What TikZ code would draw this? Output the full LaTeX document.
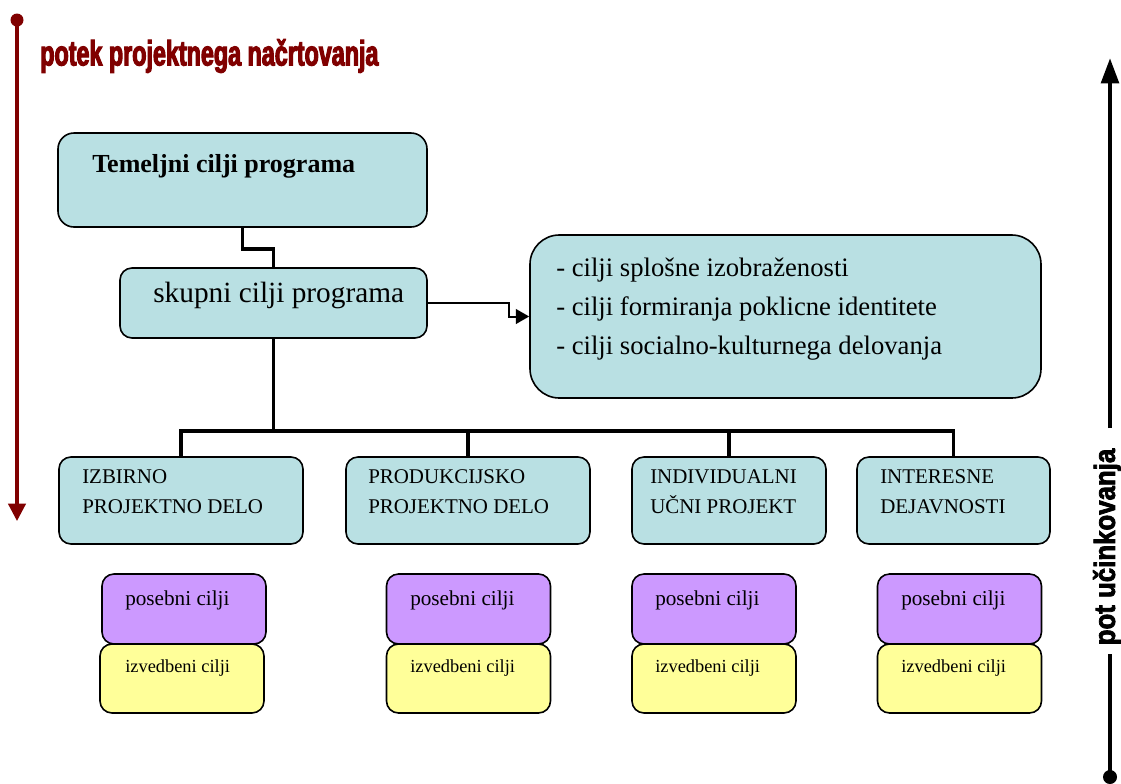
\documentclass[tikz,border=0pt]{standalone}
\usepackage{fontspec}
\setmainfont{Liberation Serif}
\newfontfamily\headfont[FakeStretch=0.66,FakeBold=3]{Liberation Sans}
\newfontfamily\sidefont[FakeStretch=0.88,FakeBold=2.5]{Liberation Sans}
\usetikzlibrary{arrows.meta,positioning}
\definecolor{goalcyan}{HTML}{B9E0E3}
\definecolor{goalviolet}{HTML}{CC99FF}
\definecolor{goalyellow}{HTML}{FFFF99}
\definecolor{flowred}{HTML}{800000}
\def\px{0.75pt}

\begin{document}
\begin{tikzpicture}
  [x=0.75pt, y=-0.75pt,
   goal/.style={draw, line width=1.2pt, rounded corners=9pt, inner sep=0pt},
   cyanbox/.style={goal, fill=goalcyan},
   violetbox/.style={goal, fill=goalviolet, minimum width=164*\px, minimum height=70*\px},
   yellowbox/.style={goal, fill=goalyellow, minimum width=164*\px, minimum height=69*\px},
   lbl/.style={anchor=west, inner sep=0pt, align=left},
   trunk/.style={line width=2.6pt},
   link/.style={line width=1.5pt, -{Triangle[length=10pt,width=11pt]}}]
  \useasboundingbox (0,0) rectangle (1121,783);

  % left flow arrow and title
  \fill[flowred] (17,20) circle (6.5);
  \draw[flowred, line width=2.4pt, -{Triangle[length=13pt,width=13pt]}] (17,20) -- (17,521);
  \node[lbl, text=flowred, font=\headfont\bfseries\fontsize{26.5}{29}\selectfont] (title) at (40,56) {potek projektnega načrtovanja};

  % right arrow
  \fill (1110,777) circle (7);
  \draw[line width=3.4pt] (1110,777) -- (1110,654);
  \draw[line width=3.4pt, -{Triangle[length=19pt,width=13pt]}] (1110,428) -- (1110,58);
  \node[rotate=90, inner sep=0pt, font=\sidefont\bfseries\fontsize{22}{24}\selectfont] (pot) at (1107,547) {pot učinkovanja};

  % top boxes
  \node[cyanbox, rounded corners=12pt, minimum width=369*\px, minimum height=94*\px] (temelj) at (242.5,180) {};
  \node[lbl, font=\bfseries\fontsize{19.5}{22}\selectfont] (temeljtxt) at (92,166) {Temeljni cilji programa};

  \node[cyanbox, minimum width=307*\px, minimum height=70*\px] (skupni) at (273.5,303) {};
  \node[lbl, font=\fontsize{22}{26}\selectfont] (skupnitxt) at (153,295) {skupni cilji programa};

  \node[cyanbox, rounded corners=22pt, minimum width=511*\px, minimum height=163*\px] (cilji) at (785.5,316.5) {};
  \node[lbl, font=\fontsize{20}{29.5}\selectfont] (ciljitxt) at (556,309)
    {- cilji splošne izobraženosti\\- cilji formiranja poklicne identitete\\- cilji socialno-kulturnega delovanja};

  % program parts
  \node[cyanbox, minimum width=244*\px, minimum height=87*\px] (izbirno) at (181,500.5) {};
  \node[cyanbox, minimum width=244*\px, minimum height=87*\px] (produkc) at (468,500.5) {};
  \node[cyanbox, minimum width=194*\px, minimum height=87*\px] (individ) at (729,500.5) {};
  \node[cyanbox, minimum width=193*\px, minimum height=87*\px] (interes) at (953.5,500.5) {};
  \begin{scope}[every node/.style={lbl, font=\fontsize{15.7}{22.5}\selectfont}]
    \node (izbirnotxt) at (82,492) {IZBIRNO\\PROJEKTNO DELO};
    \node (produkctxt) at (368,492) {PRODUKCIJSKO\\PROJEKTNO DELO};
    \node (individtxt) at (650,492) {INDIVIDUALNI\\UČNI PROJEKT};
    \node (interestxt) at (880,492) {INTERESNE\\DEJAVNOSTI};
  \end{scope}

  % special and operational goals
  \node[violetbox] (pos1) at (184,609) {};
  \node[violetbox] (pos2) at (468.5,609) {};
  \node[violetbox] (pos3) at (714,609) {};
  \node[violetbox] (pos4) at (959.5,609) {};
  \node[yellowbox] (izv1) at (182,678.5) {};
  \node[yellowbox] (izv2) at (468.5,678.5) {};
  \node[yellowbox] (izv3) at (714,678.5) {};
  \node[yellowbox] (izv4) at (959.5,678.5) {};
  \foreach \n/\x in {1/125, 2/410, 3/655, 4/901} {
    \node[lbl, font=\fontsize{15.9}{18}\selectfont] (postxt\n) at (\x,600) {posebni cilji};
    \node[lbl, font=\fontsize{13.8}{16}\selectfont] (izvtxt\n) at (\x,668) {izvedbeni cilji};
  }

  % connectors
  \draw[trunk] (temelj.south) -- ++(0,21) -| (skupni.north);
  \draw[link] (skupni.east) -- ++(81,0) |- (cilji.west);
  \draw[trunk] (skupni.south) -- ++(0,94);
  \draw[trunk] (izbirno.north) -- ++(0,-25) -| (interes.north);
  \foreach \n in {produkc, individ}
    \draw[trunk] (\n.north) -- ++(0,-25);
\end{tikzpicture}
\end{document}
